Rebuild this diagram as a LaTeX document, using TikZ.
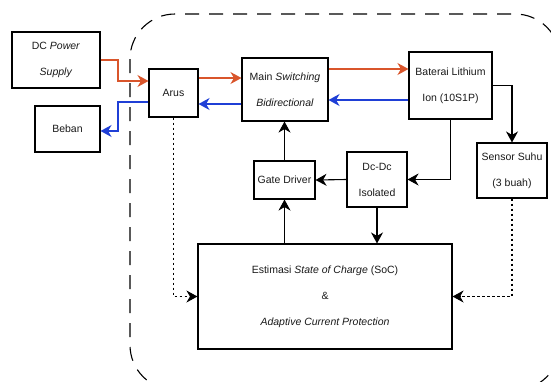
\documentclass[tikz,border=0pt]{standalone}
\usepackage{fontspec}
\setmainfont{Liberation Sans}
\usetikzlibrary{arrows.meta}
\definecolor{flowred}{HTML}{D9552B}
\definecolor{flowblue}{HTML}{1F3FD6}
\tikzset{
  blok/.style={draw, line width=1.1pt, align=center, inner sep=0pt,
    text=black!90, font=\fontsize{10.5}{26}\selectfont},
  flowtip/.style={-{Stealth[length=11pt,width=12pt,inset=3.5pt]}},
  redflow/.style={flowtip, draw=flowred, line width=1.4pt},
  blueflow/.style={flowtip, draw=flowblue, line width=1.4pt},
  ctlflow/.style={flowtip, line width=1.1pt},
  senseflow/.style={flowtip, line width=1.1pt, dash pattern=on 2.5pt off 2.5pt}
}
\def\dred{\draw[redflow]}
\def\dblue{\draw[blueflow]}
\def\dctl{\draw[ctlflow]}
\def\dsense{\draw[senseflow]}

\begin{document}
\begin{tikzpicture}[x=1pt,y=-1pt]
  \useasboundingbox (0,0) rectangle (551,381);
  \begin{scope}
    \clip (0,0) rectangle (551,381);
    \draw[line width=1.1pt, dash pattern=on 14pt off 10pt, rounded corners=45pt]
      (130,14) rectangle (560,390);
  \end{scope}

  \node[blok, minimum width=88pt, minimum height=56pt] (dcps) at (56,60) {DC \textit{Power}\\\textit{Supply}};
  \node[blok, minimum width=65pt, minimum height=46pt] (beban) at (67.5,129) {Beban};
  \node[blok, minimum width=49pt, minimum height=48pt] (arus) at (173.5,93) {Arus};
  \node[blok, minimum width=86pt, minimum height=63pt] (main) at (285,89.5) {Main \textit{Switching}\\\textit{Bidirectional}};
  \node[blok, minimum width=83pt, minimum height=67pt] (bat) at (450.5,85.5) {Baterai Lithium\\Ion (10S1P)};
  \node[blok, minimum width=70pt, minimum height=55pt] (sensor) at (512,170.5) {Sensor Suhu\\(3 buah)};
  \node[blok, minimum width=60pt, minimum height=55pt] (dcdc) at (377,179.5) {Dc-Dc\\Isolated};
  \node[blok, minimum width=61pt, minimum height=38pt] (gate) at (284.5,180) {Gate Driver};
  \node[blok, minimum width=254pt, minimum height=105pt] (est) at (325,296.5)
    {Estimasi \textit{State of Charge} (SoC)\\\&\\\textit{Adaptive Current Protection}};

  % daya
  \dred (dcps.east) -| (118,81) -- (arus.west |- 0,81);
  \dred (arus.east |- 0,78) -- (main.west |- 0,78);
  \dred (main.east |- 0,69) -- (bat.west |- 0,69);
  \dblue (bat.west |- 0,100) -- (main.east |- 0,100);
  \dblue (main.west |- 0,104) -- (arus.east |- 0,104);
  \dblue (arus.west |- 0,102) -| (118,131) -- (beban.east |- 0,131);

  % kontrol
  \dctl (bat.east) -| (sensor.north);
  \dctl (bat.south) |- (dcdc.east);
  \dctl (dcdc.west) -- (gate.east);
  \dctl (dcdc.south) -- (dcdc.south |- est.north);
  \dctl (est.north -| gate.south) -- (gate.south);
  \dctl (gate.north) -- (gate.north |- main.south);

  % sensor
  \dsense (arus.south) |- (est.west);
  \dsense (sensor.south) |- (est.east);
\end{tikzpicture}
\end{document}
